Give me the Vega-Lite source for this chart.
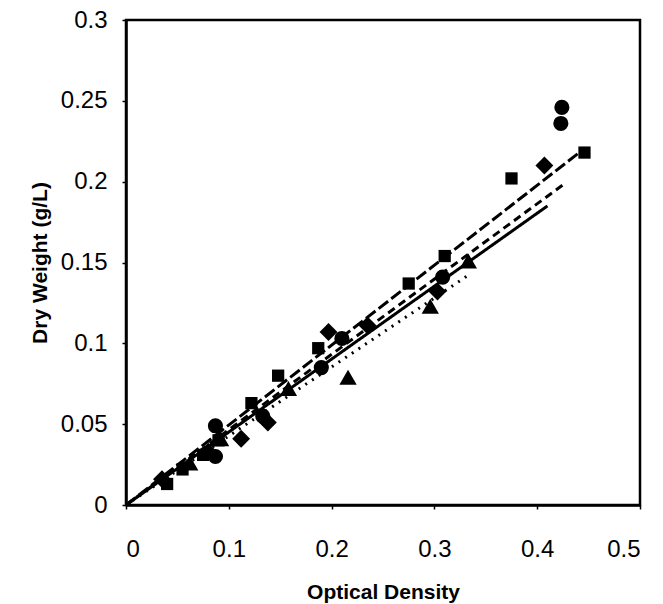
{
  "$schema": "https://vega.github.io/schema/vega-lite/v6.json",
  "width": 514,
  "height": 485,
  "autosize": "none",
  "padding": {"left": 126, "top": 20, "right": 23, "bottom": 99},
  "background": "white",
  "config": {
    "view": {"stroke": "black", "strokeWidth": 2.5},
    "axis": {
      "grid": false,
      "domainColor": "black",
      "domainWidth": 2.5,
      "tickColor": "black",
      "tickWidth": 1.5,
      "tickSize": 4,
      "labelFont": "Liberation Sans",
      "labelFontSize": 24,
      "labelColor": "black",
      "titleFont": "Liberation Sans",
      "titleFontSize": 21,
      "titleFontWeight": "bold",
      "titleColor": "black"
    }
  },
  "datasets": {
    "pts": [
      {"x": 0.040, "y": 0.013, "s": "square"},
      {"x": 0.055, "y": 0.022, "s": "square"},
      {"x": 0.075, "y": 0.031, "s": "square"},
      {"x": 0.090, "y": 0.040, "s": "square"},
      {"x": 0.122, "y": 0.063, "s": "square"},
      {"x": 0.148, "y": 0.080, "s": "square"},
      {"x": 0.187, "y": 0.097, "s": "square"},
      {"x": 0.275, "y": 0.137, "s": "square"},
      {"x": 0.310, "y": 0.154, "s": "square"},
      {"x": 0.375, "y": 0.202, "s": "square"},
      {"x": 0.446, "y": 0.218, "s": "square"},
      {"x": 0.035, "y": 0.016, "s": "diamond"},
      {"x": 0.080, "y": 0.033, "s": "diamond"},
      {"x": 0.112, "y": 0.041, "s": "diamond"},
      {"x": 0.138, "y": 0.051, "s": "diamond"},
      {"x": 0.197, "y": 0.107, "s": "diamond"},
      {"x": 0.235, "y": 0.111, "s": "diamond"},
      {"x": 0.303, "y": 0.132, "s": "diamond"},
      {"x": 0.407, "y": 0.210, "s": "diamond"},
      {"x": 0.062, "y": 0.026, "s": "triangle"},
      {"x": 0.092, "y": 0.041, "s": "triangle"},
      {"x": 0.158, "y": 0.072, "s": "triangle"},
      {"x": 0.216, "y": 0.079, "s": "triangle"},
      {"x": 0.296, "y": 0.123, "s": "triangle"},
      {"x": 0.333, "y": 0.151, "s": "triangle"},
      {"x": 0.087, "y": 0.049, "s": "circle"},
      {"x": 0.087, "y": 0.030, "s": "circle"},
      {"x": 0.133, "y": 0.055, "s": "circle"},
      {"x": 0.190, "y": 0.085, "s": "circle"},
      {"x": 0.210, "y": 0.103, "s": "circle"},
      {"x": 0.308, "y": 0.141, "s": "circle"},
      {"x": 0.424, "y": 0.246, "s": "circle"},
      {"x": 0.423, "y": 0.236, "s": "circle"}
    ],
    "fits": [
      {"x": 0, "y": 0, "f": "long"},
      {"x": 0.445, "y": 0.220, "f": "long"},
      {"x": 0, "y": 0, "f": "short"},
      {"x": 0.425, "y": 0.198, "f": "short"},
      {"x": 0, "y": 0, "f": "solid"},
      {"x": 0.410, "y": 0.185, "f": "solid"},
      {"x": 0, "y": 0, "f": "dot"},
      {"x": 0.335, "y": 0.143, "f": "dot"}
    ]
  },
  "layer": [
    {
      "data": {"name": "fits"},
      "mark": {"type": "line", "color": "black", "strokeWidth": 3},
      "encoding": {
        "x": {"field": "x", "type": "quantitative", "scale": {"domain": [0, 0.5]}, "axis": {"values": [0, 0.1, 0.2, 0.3, 0.4, 0.5], "title": "Optical Density", "labelPadding": 28, "titlePadding": 20, "format": "~g"}},
        "y": {"field": "y", "type": "quantitative", "scale": {"domain": [0, 0.3]}, "axis": {"values": [0, 0.05, 0.1, 0.15, 0.2, 0.25, 0.3], "title": "Dry Weight (g/L)", "labelPadding": 15, "titlePadding": 10, "format": "~g"}},
        "detail": {"field": "f"},
        "strokeDash": {"field": "f", "type": "nominal", "legend": null, "scale": {"domain": ["long", "short", "solid", "dot"], "range": [[12, 4], [8, 5], [1, 0], [2, 6]]}}
      }
    },
    {
      "data": {"name": "pts"},
      "mark": {"type": "point", "filled": true, "color": "black", "opacity": 1},
      "encoding": {
        "x": {"field": "x", "type": "quantitative"},
        "y": {"field": "y", "type": "quantitative"},
        "shape": {"field": "s", "type": "nominal", "legend": null, "scale": {"domain": ["square", "diamond", "triangle", "circle"], "range": ["square", "diamond", "triangle-up", "circle"]}},
        "size": {"field": "s", "type": "nominal", "legend": null, "scale": {"type": "ordinal", "domain": ["square", "diamond", "triangle", "circle"], "range": [150, 320, 300, 230]}}
      }
    }
  ]
}
